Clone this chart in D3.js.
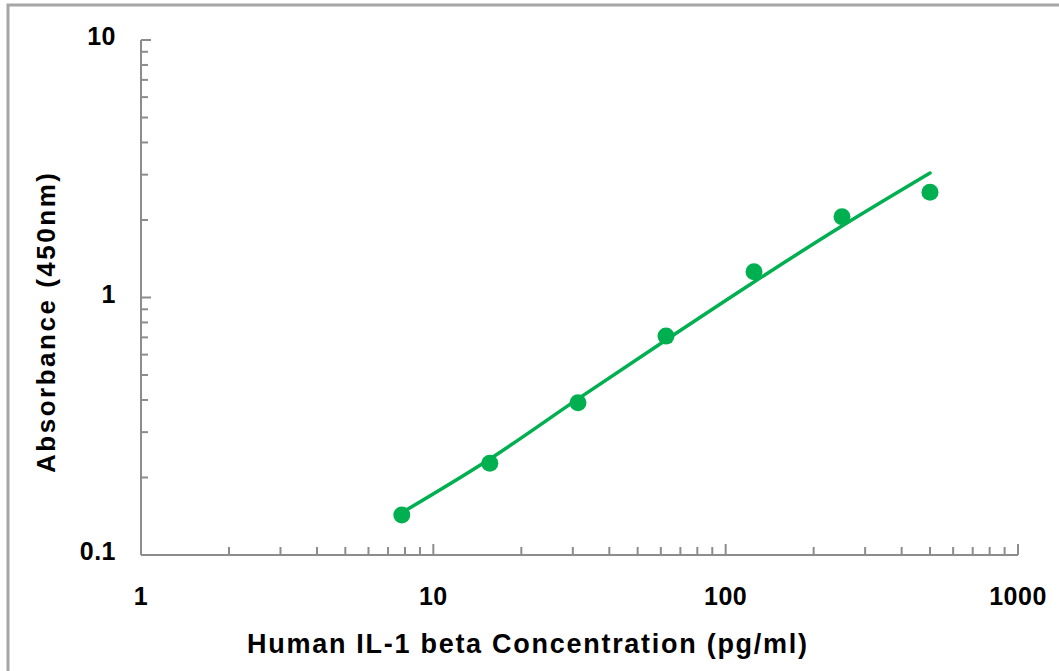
<!DOCTYPE html>
<html>
<head>
<meta charset="utf-8">
<script src="https://cdn.jsdelivr.net/npm/d3@7"></script>
<style>
  body { margin: 0; background: #fff; }
  text { font-family: Arial, "Liberation Sans", sans-serif; font-weight: bold; fill: #000; }
</style>
</head>
<body>
<svg id="plot" width="1059" height="671"></svg>
<script>
// standard concentrations (pg/ml) and measured absorbance
const conc = [7.8, 15.6, 31.25, 62.5, 125, 250, 500];
const od = [0.143, 0.227, 0.390, 0.708, 1.259, 2.059, 2.562];
// fitted curve at the same concentrations
const fit = [0.146, 0.236, 0.404, 0.684, 1.149, 1.895, 3.044];

const xTicks = [1, 10, 100, 1000];
const yTicks = [0.1, 1, 10];

d3.select(window).on('load', init);

function init() {
    let svg = d3.select('#plot');

    // outer frame
    svg.append('rect')
        .attr('x', 8).attr('y', 5)
        .attr('width', 1200).attr('height', 1000)
        .attr('fill', 'none')
        .attr('stroke', '#a6a6a6')
        .attr('stroke-width', 3);

    let margin = {top: 40, left: 141},
        width = 877,
        height = 515;

    let x = d3.scaleLog().domain([1, 1000]).range([0, width]),
        y = d3.scaleLog().domain([0.1, 10]).range([height, 0]);

    let g = svg.append('g')
        .attr('transform', 'translate(' + margin.left + ',' + margin.top + ')');

    // minor + major tick values
    let xAll = [], yAll = [];
    [1, 10, 100].forEach(d => { for (let k = 1; k < 10; k++) xAll.push(d * k); });
    xAll.push(1000);
    [0.1, 1].forEach(d => { for (let k = 1; k < 10; k++) yAll.push(+(d * k).toFixed(2)); });
    yAll.push(10);

    let axisColor = '#8c8c8c';

    // x axis (ticks point up, into the plot)
    let gx = g.append('g').attr('transform', 'translate(0,' + height + ')');
    gx.append('line')
        .attr('x1', 0).attr('x2', width)
        .attr('stroke', axisColor).attr('stroke-width', 2);
    gx.selectAll('.tick')
        .data(xAll)
        .enter()
        .append('line')
        .attr('x1', d => x(d)).attr('x2', d => x(d))
        .attr('y1', 0)
        .attr('y2', d => xTicks.includes(d) ? -11 : -8)
        .attr('stroke', axisColor).attr('stroke-width', 2);
    gx.selectAll('.lbl')
        .data(xTicks)
        .enter()
        .append('text')
        .attr('x', d => x(d))
        .attr('y', 50)
        .attr('text-anchor', 'middle')
        .style('font-size', '25px')
        .style('letter-spacing', '0.5px')
        .text(d => d);

    // y axis (ticks point right, into the plot)
    let gy = g.append('g');
    gy.append('line')
        .attr('y1', 0).attr('y2', height)
        .attr('stroke', axisColor).attr('stroke-width', 2);
    gy.selectAll('.tick')
        .data(yAll)
        .enter()
        .append('line')
        .attr('y1', d => y(d)).attr('y2', d => y(d))
        .attr('x1', 0)
        .attr('x2', d => yTicks.includes(d) ? 10 : 7)
        .attr('stroke', axisColor).attr('stroke-width', 2);
    gy.selectAll('.lbl')
        .data(yTicks)
        .enter()
        .append('text')
        .attr('x', -25)
        .attr('y', d => y(d) + 5)
        .attr('text-anchor', 'end')
        .style('font-size', '25px')
        .style('letter-spacing', '0.5px')
        .text(d => d);

    // axis titles
    svg.append('text')
        .attr('x', 527)
        .attr('y', 653)
        .attr('text-anchor', 'middle')
        .attr('textLength', 560)
        .attr('lengthAdjust', 'spacing')
        .style('font-size', '27px')
        .text('Human IL-1 beta Concentration  (pg/ml)');

    svg.append('text')
        .attr('transform', 'translate(55,323) rotate(-90)')
        .attr('text-anchor', 'middle')
        .attr('textLength', 300)
        .attr('lengthAdjust', 'spacing')
        .style('font-size', '26px')
        .text('Absorbance (450nm)');

    let green = '#00b050';

    // fitted curve
    let line = d3.line()
        .x((d, i) => x(conc[i]))
        .y(d => y(d))
        .curve(d3.curveMonotoneX);

    g.append('path')
        .datum(fit)
        .attr('d', line)
        .attr('fill', 'none')
        .attr('stroke', green)
        .attr('stroke-width', 3.5)
        .attr('stroke-linecap', 'round');

    // data points
    g.selectAll('.point')
        .data(od)
        .enter()
        .append('circle')
        .attr('class', 'point')
        .attr('r', 8.5)
        .attr('cx', (d, i) => x(conc[i]))
        .attr('cy', d => y(d))
        .attr('fill', green);
}
</script>
</body>
</html>
